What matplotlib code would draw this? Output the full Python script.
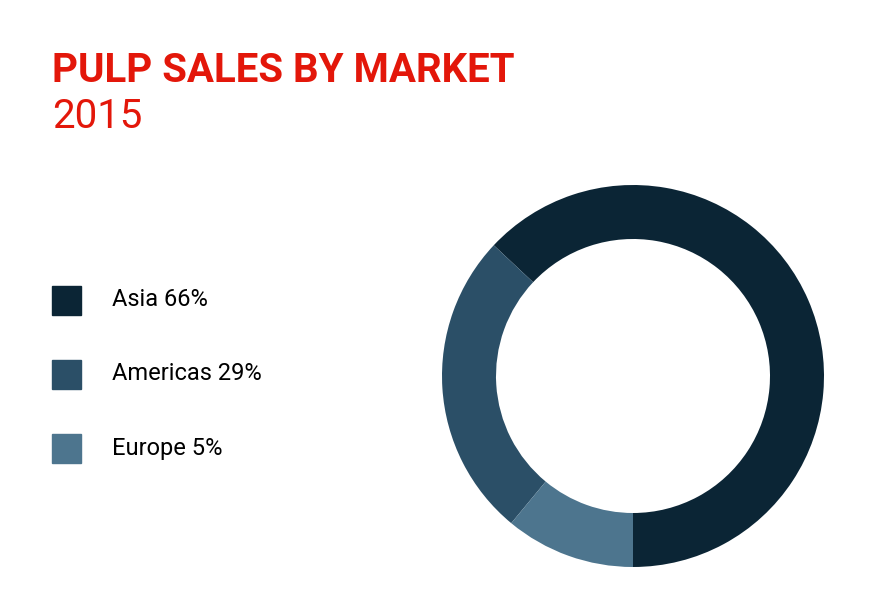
import matplotlib.pyplot as plt

# shares as drawn in the ring, legend text as printed
markets = ['Asia', 'Americas', 'Europe']
labels = ['Asia 66%', 'Americas 29%', 'Europe 5%']
shares = [63, 26, 11]
colors = ['#0b2535', '#2b4f67', '#4d758e']
red = '#e3170a'

plt.rcParams['font.family'] = ['Roboto', 'DejaVu Sans']

W, H = 890, 615
fig = plt.figure(figsize=(W / 100, H / 100), dpi=100)
fig.patch.set_facecolor('white')

fig.text(52 / W, 1 - 82 / H, 'PULP SALES BY MARKET', color=red,
         fontsize=29, fontweight='bold', va='baseline')
fig.text(52 / W, 1 - 128 / H, '2015', color=red, fontsize=29, va='baseline')

# donut
cx, cy, r = 633, 376, 191
ax = fig.add_axes([(cx - r) / W, (H - cy - r) / H, 2 * r / W, 2 * r / H])
ax.pie(shares, colors=colors, startangle=270, counterclock=True,
       wedgeprops=dict(width=54 / r, edgecolor='none'))
ax.set_xlim(-1, 1)
ax.set_ylim(-1, 1)
ax.set_aspect('equal')
ax.axis('off')

# legend
for i, (lab, c) in enumerate(zip(labels, colors)):
    y = 300 + i * 74
    fig.patches.append(plt.Rectangle((52 / W, 1 - (y + 15) / H), 29 / W, 29 / H,
                                     transform=fig.transFigure, color=c))
    fig.text(112 / W, 1 - y / H, lab, color='black', fontsize=17, va='center')

fig.savefig('out.png', dpi=100)
